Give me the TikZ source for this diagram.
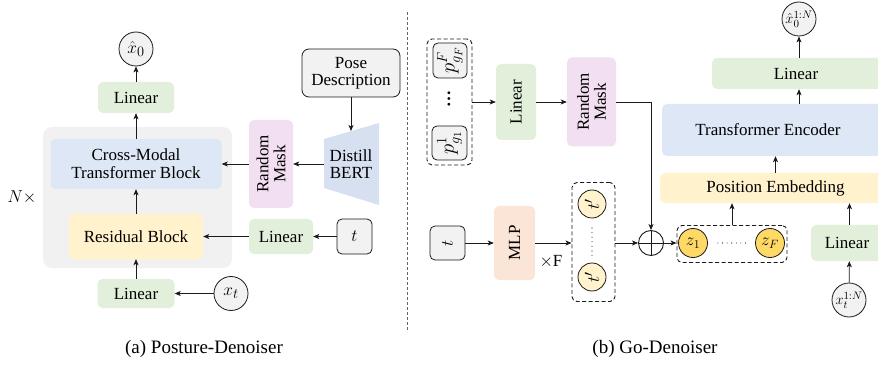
\documentclass[tikz,border=0pt]{standalone}
\usepackage{fontspec}
\setmainfont{Liberation Serif}
\usetikzlibrary{arrows.meta,calc}
\definecolor{cgreen}{HTML}{E2EFDA}
\definecolor{cblue}{HTML}{DDE7F5}
\definecolor{cyellow}{HTML}{FFF2CC}
\definecolor{cpink}{HTML}{F2DFF1}
\definecolor{cpeach}{HTML}{FBE5D6}
\definecolor{cbg}{HTML}{F1F1F1}
\definecolor{cbert}{HTML}{D7E0F1}
\definecolor{cgold}{HTML}{FFD966}
\definecolor{ccirc}{HTML}{F2F2F2}
\definecolor{cline}{HTML}{1A1A1A}
\begin{document}
\begin{tikzpicture}[x=1pt,y=-1pt,
  font=\fontsize{17}{19}\selectfont,
  arr/.style={-{Stealth[length=6pt,width=5pt,inset=1.5pt]}, line width=0.8pt, draw=cline},
  plain/.style={line width=0.8pt, draw=cline},
  fbox/.style={rectangle, rounded corners=5pt, inner sep=0pt, align=center},
  gbox/.style={fbox, fill=cgreen},
  outbox/.style={fbox, fill=ccirc, draw=cline, line width=0.8pt},
  circ/.style={circle, fill=ccirc, draw=cline, line width=0.8pt, inner sep=0pt, minimum size=34pt},
  dbox/.style={rectangle, rounded corners=5pt, draw=cline, line width=0.9pt, dash pattern=on 4pt off 2.5pt, inner sep=0pt},
  dotline/.style={line width=1.1pt, dash pattern=on 0pt off 4.6pt, line cap=round, draw=cline}
]
\clip (0,0) rectangle (878,366);
\fill[white] (0,0) rectangle (878,366);

% ---------------- (a) Posture-Denoiser ----------------
\fill[cbg, rounded corners=9pt] (43,127) rectangle (232,268);
\node[fbox, fill=cblue, minimum width=171pt, minimum height=50pt] (cmt) at (136,164) {Cross-Modal\\[-1pt]Transformer Block};
\node[fbox, fill=cyellow, minimum width=134pt, minimum height=45pt] (res) at (136,236.5) {Residual Block};
\node[gbox, minimum width=76pt, minimum height=31pt] (lin1) at (136,97.5) {Linear};
\node[gbox, minimum width=77pt, minimum height=29pt] (lin2) at (136,293.5) {Linear};
\node[circ, font=\fontsize{19}{21}\selectfont] (x0) at (136,49) {$\hat{x}_0$};
\node[circ, font=\fontsize{19}{21}\selectfont] (xt) at (231,293.5) {$x_t$};
\node (nx) at (22,197) {$N\times$};
\node[fbox, fill=cpink, rotate=90, minimum width=88pt, minimum height=44pt] (rm1) at (271,164) {Random\\[-2pt]Mask};
\coordinate (bA) at (324,139);
\coordinate (bB) at (379,123);
\coordinate (bC) at (379,205);
\coordinate (bD) at (324,188);
\fill[cbert] (bA) -- (bB) -- (bC) -- (bD) -- cycle;
\node[align=center] (bert) at (351,164) {Distill\\[-2pt]BERT};
\coordinate (bertL) at (324,164);
\coordinate (bertT) at (351,131);
\node[outbox, rounded corners=7pt, minimum width=98pt, minimum height=48pt] (pose) at (351,73) {Pose\\[-2pt]Description};
\node[gbox, minimum width=64pt, minimum height=35pt] (lin3) at (281,236.5) {Linear};
\node[outbox, minimum width=35pt, minimum height=35pt, font=\fontsize{19}{21}\selectfont] (t1) at (354.5,236.5) {$t$};

\draw[arr] (lin1) -- (x0);
\draw[arr] (cmt.north) -- (lin1.south);
\draw[arr] (res.north) -- (cmt.south);
\draw[arr] (lin2.north) -- (res.south);
\draw[arr] (xt) -- (lin2);
\draw[arr] (t1) -- (lin3);
\draw[arr] (lin3) -- (res);
\draw[arr] (pose) -- (bertT);
\draw[arr] (bertL) -- (rm1);
\draw[arr] (rm1) -- (cmt);

\node[font=\fontsize{19}{21}\selectfont] (capa) at (204,349) {(a) Posture-Denoiser};

\coordinate (divT) at (407,12);
\coordinate (divB) at (407,332);
\draw[gray!80!black, line width=0.8pt, dash pattern=on 3pt off 2pt] (divT) -- (divB);

% ---------------- (b) Go-Denoiser ----------------
\node[dbox, minimum width=45pt, minimum height=126pt] (pbox) at (449.5,102) {};
\node[outbox, rotate=90, minimum width=35pt, minimum height=34pt, font=\fontsize{21}{23}\selectfont] (pF) at (450,60.5) {$p^{F}_{g_F}$};
\node[outbox, rotate=90, minimum width=34pt, minimum height=35pt, font=\fontsize{21}{23}\selectfont] (p1) at (449.5,143) {$p^{1}_{g_1}$};
\node[rotate=90, font=\fontsize{17}{19}\bfseries] (pdots) at (449,99) {…};
\node[gbox, rotate=90, minimum width=76pt, minimum height=40pt] (lin4) at (516,102) {Linear};
\node[fbox, fill=cpink, rotate=90, minimum width=89pt, minimum height=49pt] (rm2) at (591.5,102) {Random\\[-2pt]Mask};

\node[outbox, rotate=90, minimum width=34pt, minimum height=35pt, font=\fontsize{19}{21}\selectfont] (t2) at (447.5,243) {$t$};
\node[fbox, fill=cpeach, rotate=90, minimum width=74pt, minimum height=41pt] (mlp) at (514.5,243) {MLP};
\node (xF) at (551,262) {$\times$F};
\node[dbox, minimum width=43pt, minimum height=119pt] (tdash) at (593.5,242) {};
\node[circ, fill=cyellow, minimum size=28pt, rotate=90, font=\fontsize{19}{21}\selectfont] (tp1) at (592,204) {$t'$};
\node[circ, fill=cyellow, minimum size=28pt, rotate=90, font=\fontsize{19}{21}\selectfont] (tp2) at (592,277) {$t'$};
\draw[dotline] ([yshift=-24pt]tp1.center) -- ([yshift=20pt]tp2.center);
\node[circle, draw=cline, line width=0.9pt, minimum size=25pt, inner sep=0pt] (oplus) at (651,243) {};
\draw[plain] (oplus.north) -- (oplus.south) (oplus.west) -- (oplus.east);
\node[dbox, minimum width=110pt, minimum height=37pt] (zdash) at (732,244) {};
\node[circ, fill=cgold, minimum size=29pt, font=\fontsize{18}{20}\selectfont] (z1) at (693,243) {$z_1$};
\node[circ, fill=cgold, minimum size=29pt, font=\fontsize{18}{20}\selectfont] (zF) at (770,243) {$z_F$};
\draw[dotline] ([xshift=10pt]z1.east) -- ([xshift=-8pt]zF.west);

\node[fbox, fill=cyellow, minimum width=231pt, minimum height=30pt] (pe) at (775.5,188) {Position Embedding};
\node[fbox, fill=cblue, minimum width=228pt, minimum height=52pt] (te) at (776,130) {};
\node (tetext) at (768,130) {Transformer Encoder};
\node[gbox, minimum width=178pt, minimum height=31pt] (lin5) at (801,73.5) {};
\node (lin5text) at (796,73.5) {Linear};
\node[gbox, minimum width=77pt, minimum height=36pt] (lin6) at (849.5,243) {};
\node (lin6text) at (847,243) {Linear};
\node[circ, font=\fontsize{15}{17}\selectfont] (x0out) at (799,19) {$\hat{x}_0^{1:N}$};
\node[circ, font=\fontsize{15}{17}\selectfont] (xtin) at (849,300) {$x_t^{1:N}$};

\draw[arr] (pbox.east) -- (lin4);
\draw[arr] (lin4) -- (rm2);
\draw[arr] (rm2) -| (oplus);
\draw[arr] (t2) -- (mlp);
\draw[arr] (mlp) -- (tdash.west |- mlp);
\draw[arr] (tdash.east |- oplus) -- (oplus);
\draw[arr] (oplus) -- (zdash.west |- oplus);
\draw[arr] (zdash.north) -- (zdash.north |- pe.south);
\draw[arr] (xtin) -- (lin6);
\draw[arr] (lin6.north) -- (lin6.north |- pe.south);
\draw[arr] (pe.north) -- (pe.north |- te.south);
\draw[arr] (x0out |- te.north) -- (x0out |- lin5.south);
\draw[arr] (x0out |- lin5.north) -- (x0out);

\node[font=\fontsize{19}{21}\selectfont] (capb) at (655,349) {(b) Go-Denoiser};
\end{tikzpicture}
\end{document}
